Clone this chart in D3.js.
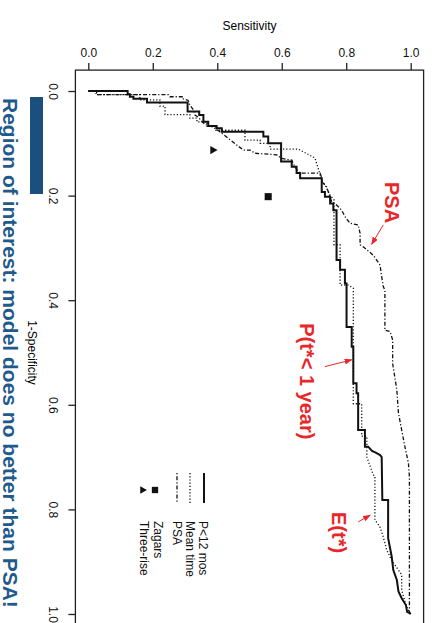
<!DOCTYPE html>
<html>
<head>
<meta charset="utf-8">
<script src="https://cdn.jsdelivr.net/npm/d3@7"></script>
<style>
  body { margin: 0; background: #fff; }
  svg { display: block; font-family: "Liberation Sans", Arial, sans-serif; }
  .box { fill: none; stroke: #222; stroke-width: 1.3px; }
  .axis path { display: none; }
  .axis line { stroke: #222; stroke-width: 1.3px; }
  .axis text { font-size: 12px; fill: #111; }
  .curve { fill: none; stroke: #111; }
  .note { fill: #e8272a; font-weight: bold; font-size: 20px; }
</style>
</head>
<body>
<div id="chart"></div>
<script>
// ROC plot turned on its side: sensitivity runs across, 1-specificity runs down
const sensTicks = [0, 0.2, 0.4, 0.6, 0.8, 1.0];
const fprTicks = [0, 0.2, 0.4, 0.6, 0.8, 1.0];

// every point is [1-specificity, sensitivity]
const p12mos = [
  [0, 0], [0, 0.122], [0.006, 0.122], [0.006, 0.129], [0.011, 0.129], [0.011, 0.140],
  [0.015, 0.140], [0.015, 0.182], [0.022, 0.182], [0.022, 0.308], [0.039, 0.308],
  [0.039, 0.344], [0.046, 0.344], [0.046, 0.357], [0.059, 0.357], [0.059, 0.372],
  [0.067, 0.372], [0.067, 0.398], [0.071, 0.398], [0.071, 0.414], [0.078, 0.414],
  [0.078, 0.543], [0.087, 0.543], [0.087, 0.558], [0.100, 0.558], [0.100, 0.598],
  [0.135, 0.598], [0.135, 0.631], [0.145, 0.631], [0.145, 0.646], [0.157, 0.646],
  [0.157, 0.657], [0.167, 0.657], [0.167, 0.724], [0.193, 0.724], [0.193, 0.734],
  [0.202, 0.734], [0.202, 0.750], [0.215, 0.750], [0.215, 0.760], [0.228, 0.760],
  [0.228, 0.770], [0.323, 0.770], [0.323, 0.781], [0.342, 0.781], [0.342, 0.796],
  [0.368, 0.796], [0.368, 0.801], [0.451, 0.801], [0.451, 0.817], [0.489, 0.817],
  [0.489, 0.822], [0.559, 0.822], [0.559, 0.832], [0.578, 0.832], [0.578, 0.837],
  [0.648, 0.837], [0.648, 0.858], [0.680, 0.858], [0.680, 0.868], [0.688, 0.880],
  [0.692, 0.893], [0.696, 0.905], [0.700, 0.910], [0.782, 0.912], [0.782, 0.930],
  [0.855, 0.930], [0.890, 0.941], [0.916, 0.946], [0.935, 0.957], [0.957, 0.962],
  [0.970, 0.972], [0.983, 0.985], [0.996, 0.989], [0.999, 0.998], [1, 1]
];

const meanTime = [
  [0, 0], [0, 0.024], [0.007, 0.024], [0.007, 0.160], [0.017, 0.160], [0.017, 0.222],
  [0.029, 0.222], [0.029, 0.238], [0.045, 0.238], [0.045, 0.315], [0.052, 0.315],
  [0.052, 0.337], [0.059, 0.337], [0.059, 0.368], [0.067, 0.368], [0.067, 0.396],
  [0.075, 0.396], [0.075, 0.486], [0.094, 0.486], [0.094, 0.533], [0.100, 0.533],
  [0.100, 0.564], [0.111, 0.564], [0.111, 0.651], [0.128, 0.703], [0.138, 0.708],
  [0.170, 0.724], [0.183, 0.737], [0.199, 0.750], [0.208, 0.762], [0.294, 0.762],
  [0.294, 0.781], [0.371, 0.781], [0.371, 0.806], [0.377, 0.822], [0.598, 0.822],
  [0.598, 0.848], [0.660, 0.848], [0.660, 0.864], [0.700, 0.864], [0.734, 0.884],
  [0.736, 0.889], [0.820, 0.889], [0.834, 0.905], [0.853, 0.915], [0.878, 0.926],
  [0.891, 0.936], [0.902, 0.946], [0.916, 0.962], [0.925, 0.972], [0.954, 0.972],
  [0.983, 0.985], [0.999, 0.998], [1, 1]
];

const psa = [
  [0, 0], [0, 0.026], [0.007, 0.026], [0.007, 0.248], [0.011, 0.253], [0.011, 0.295],
  [0.015, 0.295], [0.018, 0.310], [0.027, 0.315], [0.036, 0.326], [0.046, 0.331],
  [0.050, 0.341], [0.058, 0.352], [0.064, 0.362], [0.069, 0.387], [0.078, 0.408],
  [0.113, 0.481], [0.113, 0.502], [0.119, 0.517], [0.122, 0.584], [0.129, 0.600],
  [0.132, 0.631], [0.145, 0.641], [0.154, 0.651], [0.157, 0.657], [0.157, 0.719],
  [0.166, 0.724], [0.173, 0.724], [0.183, 0.739], [0.212, 0.755], [0.218, 0.770],
  [0.228, 0.786], [0.240, 0.796], [0.253, 0.812], [0.256, 0.837], [0.272, 0.843],
  [0.294, 0.843], [0.298, 0.853], [0.314, 0.884], [0.333, 0.905], [0.355, 0.910],
  [0.374, 0.915], [0.381, 0.920], [0.457, 0.920], [0.460, 0.936], [0.476, 0.944],
  [0.521, 0.944], [0.572, 0.957], [0.616, 0.962], [0.648, 0.972], [0.680, 0.982],
  [0.712, 0.993], [0.738, 0.996], [0.998, 0.996], [1, 1]
];

const zagars = [0.202, 0.558];
const threeRise = [0.113, 0.386];

const legendLabels = ["P<12 mos", "Mean time", "PSA", "Zagars", "Three-rise"];
const title = "Region of interest: model does no better than PSA!";

const W = 432, H = 623;

const svg = d3.select("#chart").append("svg")
  .attr("width", W)
  .attr("height", H);

svg.append("rect").attr("width", W).attr("height", H).attr("fill", "#fff");

svg.append("defs").append("marker")
  .attr("id", "head")
  .attr("markerUnits", "userSpaceOnUse")
  .attr("markerWidth", 8).attr("markerHeight", 6)
  .attr("refX", 7).attr("refY", 3)
  .attr("orient", "auto")
  .append("path")
  .attr("d", "M0,0L8,3L0,6Z")
  .attr("fill", "#e8272a");

// R pads the data range by 4% on each side
const x = d3.scaleLinear().domain([-0.04, 1.04]).range([75.4, 423.6]);
const y = d3.scaleLinear().domain([-0.04, 1.04]).range([70.1, 634.9]);

// axes
svg.append("g")
  .attr("class", "axis")
  .attr("transform", `translate(0,${y(-0.04)})`)
  .call(d3.axisTop(x).tickValues(sensTicks).tickFormat(d3.format(".1f")).tickSize(7).tickPadding(6));

const left = svg.append("g")
  .attr("class", "axis")
  .attr("transform", `translate(${x(-0.04)},0)`)
  .call(d3.axisLeft(y).tickValues(fprTicks).tickFormat(d3.format(".1f")).tickSize(7));

left.selectAll(".tick text")
  .attr("x", null)
  .attr("dy", null)
  .attr("text-anchor", "middle")
  .attr("transform", "translate(-26.5,0) rotate(90)");

svg.append("rect")
  .attr("class", "box")
  .attr("x", x(-0.04)).attr("y", y(-0.04))
  .attr("width", x(1.04) - x(-0.04))
  .attr("height", y(1.04) - y(-0.04));

svg.append("text")
  .attr("x", (x(0) + x(1)) / 2).attr("y", 29.5)
  .attr("text-anchor", "middle")
  .attr("font-size", 12)
  .text("Sensitivity");

svg.append("text")
  .attr("transform", `translate(28,${(y(0) + y(1)) / 2}) rotate(90)`)
  .attr("text-anchor", "middle")
  .attr("font-size", 12)
  .text("1-Specificity");

// curves
const line = d3.line()
  .x(d => x(d[1]))
  .y(d => y(d[0]));

svg.append("path").datum(meanTime)
  .attr("class", "curve")
  .attr("stroke-width", 1.3)
  .attr("stroke-dasharray", "1.2,2")
  .attr("d", line);

svg.append("path").datum(psa)
  .attr("class", "curve")
  .attr("stroke-width", 1.3)
  .attr("stroke-dasharray", "1.2,2,4,2")
  .attr("d", line);

svg.append("path").datum(p12mos)
  .attr("class", "curve")
  .attr("stroke-width", 2)
  .attr("d", line);

// single operating points
svg.append("path")
  .attr("d", d3.symbol(d3.symbolSquare, 50)())
  .attr("transform", `translate(${x(zagars[1])},${y(zagars[0])})`)
  .attr("fill", "#111");

svg.append("path")
  .attr("d", d3.symbol(d3.symbolTriangle, 30)())
  .attr("transform", `translate(${x(threeRise[1])},${y(threeRise[0])}) rotate(90)`)
  .attr("fill", "#111");

// legend (sideways, like the rest)
const lg = svg.append("g");
const lineStyles = [
  { w: 2, dash: null, cx: 204 },
  { w: 1.3, dash: "1.2,2", cx: 190 },
  { w: 1.3, dash: "1.2,2,4,2", cx: 177 }
];
lineStyles.forEach(s => {
  lg.append("line")
    .attr("x1", s.cx).attr("x2", s.cx)
    .attr("y1", 473).attr("y2", 503)
    .attr("stroke", "#111")
    .attr("stroke-width", s.w)
    .attr("stroke-dasharray", s.dash);
});
lg.append("path")
  .attr("d", d3.symbol(d3.symbolSquare, 40)())
  .attr("transform", "translate(155,490)")
  .attr("fill", "#111");
lg.append("path")
  .attr("d", d3.symbol(d3.symbolTriangle, 26)())
  .attr("transform", "translate(142.5,490) rotate(90)")
  .attr("fill", "#111");

const rowBase = [198.5, 185.5, 172.5, 154, 139.5];
lg.selectAll("text.lab")
  .data(legendLabels)
  .join("text")
  .attr("class", "lab")
  .attr("transform", (d, i) => `translate(${rowBase[i]},521) rotate(90)`)
  .attr("font-size", 12)
  .attr("fill", "#111")
  .text(d => d);

// red call-outs, placed in data space
const notes = [
  { text: "PSA", at: [0.174, 0.920], from: [0.256, 0.915], to: [0.293, 0.879] },
  { text: "P(t*< 1 year)", at: [0.444, 0.657], from: [0.527, 0.734], to: [0.514, 0.817] },
  { text: "E(t*)", at: [0.805, 0.756], from: [0.824, 0.837], to: [0.811, 0.874] }
];
notes.forEach(n => {
  svg.append("text")
    .attr("class", "note")
    .attr("transform", `translate(${x(n.at[1])},${y(n.at[0])}) rotate(90)`)
    .text(n.text);
  svg.append("line")
    .attr("x1", x(n.from[1])).attr("y1", y(n.from[0]))
    .attr("x2", x(n.to[1])).attr("y2", y(n.to[0]))
    .attr("stroke", "#e8272a")
    .attr("stroke-width", 1)
    .attr("marker-end", "url(#head)");
});

// slide overlay: blue bar and caption
svg.append("rect")
  .attr("x", 30).attr("y", 97)
  .attr("width", 13).attr("height", 97)
  .attr("fill", "#1b4f7e");

svg.append("text")
  .attr("transform", "translate(3,98) rotate(90)")
  .attr("font-size", 21)
  .attr("font-weight", "bold")
  .attr("fill", "#1f5a8c")
  .text(title);
</script>
</body>
</html>
